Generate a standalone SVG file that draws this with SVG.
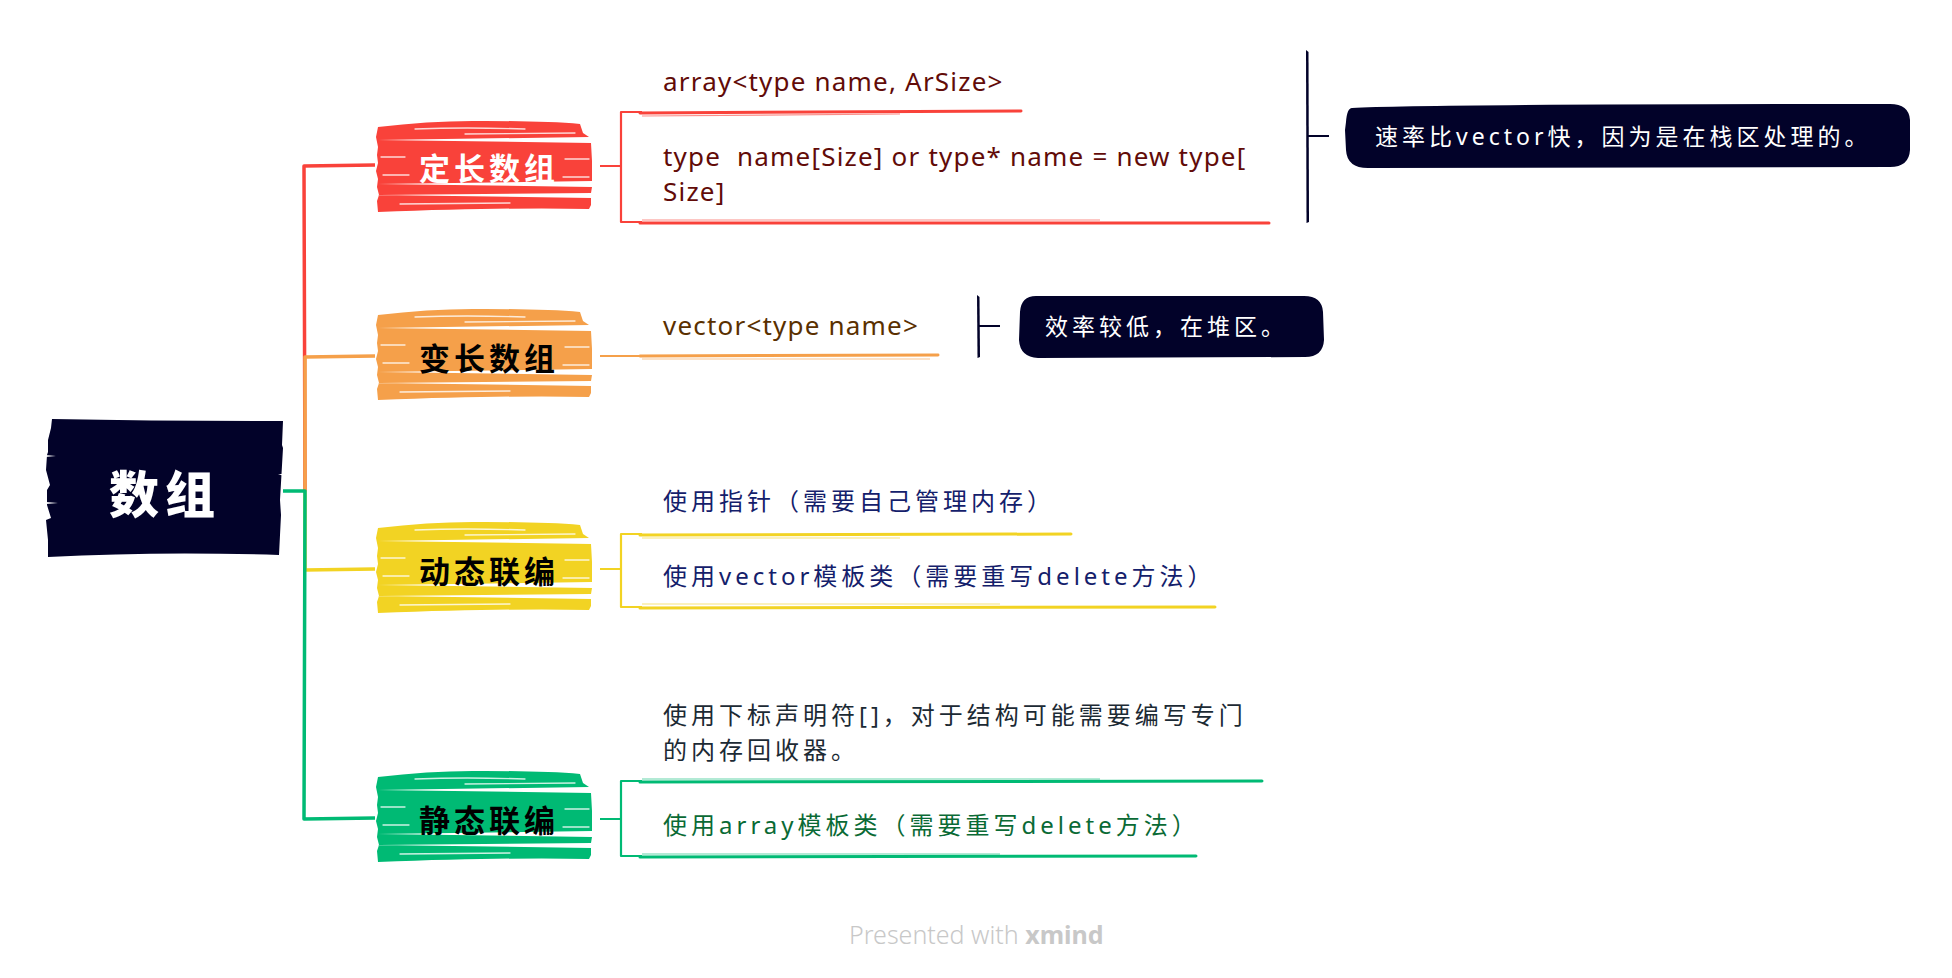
<svg xmlns="http://www.w3.org/2000/svg" width="1952" height="978" viewBox="0 0 1952 978">
<style>
.main{font-family:"Noto Sans CJK SC",sans-serif;font-weight:700;font-size:31px;letter-spacing:4px;text-anchor:middle;dominant-baseline:central}
.sub{font-family:"Noto Sans","Noto Sans CJK SC",sans-serif;font-size:26px;letter-spacing:1.2px;dominant-baseline:central;white-space:pre}
.cjk{font-size:24px;letter-spacing:4px}
.call{font-family:"Noto Sans","Noto Sans CJK SC",sans-serif;font-size:23px;letter-spacing:4px;fill:#ffffff;dominant-baseline:central}
.streak{stroke:#ffffff;stroke-width:1.3;fill:none;stroke-linecap:round;opacity:.8}
.conn{fill:none;stroke-width:3.5;stroke-linejoin:round}
.br{fill:none;stroke-width:2.2;stroke-linejoin:round}
.ul{fill:none;stroke-width:3;stroke-linecap:round}
.ul2{fill:none;stroke-width:1.2;opacity:.6}
</style>
<defs>
<path id="blob" d="M3,6 Q60,-1 110,0 Q170,0 205,3 L208,12 L214,16 L3,19 L216,22 L217,40 L217,60 L3,63 L217,66 L216,72 L3,74 L216,77 L216,84 L214,88 Q140,86 3,91 L2,80 L4,74 L2,66 L3,58 L1,50 L3,42 L2,34 L3,26 L1,16 Z"/>
<g id="streaks">
<path class="streak" d="M40,8 Q90,6 150,8 M90,13 L200,12"/>
<path class="streak" d="M6,36 L30,36 M190,38 L214,38"/>
<path class="streak" d="M8,54 L34,54 M188,56 L214,56"/>
<path class="streak" d="M25,83 L135,82"/>
</g>
</defs>

<g id="connectors">
<path class="conn" stroke="#F9423A" d="M305,491 L304,166 L375,165"/>
<path class="conn" stroke="#F5A04A" d="M305,491 L305,357 L375,356"/>
<path class="conn" stroke="#F2D323" d="M305,491 L305,570 L375,569"/>
<path class="conn" stroke="#00BA74" d="M283,491 L305,491 L304,819 L375,818"/>

<path class="br" stroke="#F9423A" d="M600,166 L621,166 M642,112 L621,112 L621,222 L642,222"/>
<path class="ul" stroke="#F9423A" d="M640,113 L1021,111"/>
<path class="ul2" stroke="#F9423A" d="M642,116 L900,114"/>
<path class="ul" stroke="#F9423A" d="M640,223 L1269,223"/>
<path class="ul2" stroke="#F9423A" d="M642,220 L1100,220"/>

<path class="br" stroke="#F5A04A" d="M600,356 L640,356"/>
<path class="ul" stroke="#F5A04A" d="M640,356 L938,355"/>
<path class="ul2" stroke="#F5A04A" d="M642,359 L930,359"/>

<path class="br" stroke="#F2D323" d="M600,569 L621,569 M642,534 L621,534 L621,607 L642,607"/>
<path class="ul" stroke="#F2D323" d="M640,535 L1071,534"/>
<path class="ul2" stroke="#F2D323" d="M642,538 L900,538"/>
<path class="ul" stroke="#F2D323" d="M640,608 L1215,607"/>
<path class="ul2" stroke="#F2D323" d="M642,604 L1000,604"/>

<path class="br" stroke="#00BA74" d="M600,819 L621,819 M642,781 L621,781 L621,856 L642,856"/>
<path class="ul" stroke="#00BA74" d="M640,782 L1262,781"/>
<path class="ul2" stroke="#00BA74" d="M642,779 L1100,779"/>
<path class="ul" stroke="#00BA74" d="M640,857 L1196,856"/>
<path class="ul2" stroke="#00BA74" d="M642,854 L1000,854"/>

<path fill="#020229" d="M1306,50 L1308.5,52 L1309,222 L1306.5,223 Z"/>
<path fill="none" stroke="#020229" stroke-width="2" d="M1308,136 L1329,136"/>
<path fill="#020229" d="M977,295 L979.5,297 L980,357 L977.5,358 Z"/>
<path fill="none" stroke="#020229" stroke-width="2" d="M979,326 L1000,326"/>
</g>

<g id="root">
<path fill="#020229" d="M52,419 Q160,421 283,421 L282,445 L283,448 L280,500 L281,515 L279,555 Q160,551 48,557 L48,540 L46,520 L51,518 L47,505 L47,490 L50,485 L46,470 L47,455 L48,452 L48,440 L51,428 Z"/>
<path fill="#ffffff" d="M45,455 L56,456 L45,457 Z M46,502 L58,503 L46,504 Z M278,474 L284,474 L284,476 Z"/>
<text x="165" y="491" style="font-family:'Noto Sans CJK SC',sans-serif;font-weight:900;font-size:50px;letter-spacing:6px;text-anchor:middle;dominant-baseline:central;fill:#ffffff">数组</text>
</g>

<g id="n1">
<use href="#blob" x="375" y="121" fill="#F9423A"/>
<use href="#streaks" x="375" y="121"/>
<text class="main" x="489" y="166" fill="#ffffff">定长数组</text>
</g>
<g id="n2">
<use href="#blob" x="375" y="309" fill="#F5A04A"/>
<use href="#streaks" x="375" y="309"/>
<text class="main" x="489" y="356" fill="#000000">变长数组</text>
</g>
<g id="n3">
<use href="#blob" x="375" y="522" fill="#F2D323"/>
<use href="#streaks" x="375" y="522"/>
<text class="main" x="489" y="569" fill="#000000">动态联编</text>
</g>
<g id="n4">
<use href="#blob" x="375" y="771" fill="#00BA74"/>
<use href="#streaks" x="375" y="771"/>
<text class="main" x="489" y="818" fill="#000000">静态联编</text>
</g>

<g id="n1a"><text class="sub" x="663" y="81" fill="#620b08">array&lt;type name, ArSize&gt;</text></g>
<g id="n1b"><text class="sub" x="663" y="156" fill="#620b08">type  name[Size] or type* name = new type[</text><text class="sub" x="663" y="191" fill="#620b08">Size]</text></g>
<g id="n2a"><text class="sub" x="663" y="325" fill="#5a3000">vector&lt;type name&gt;</text></g>
<g id="n3a"><text class="sub cjk" x="663" y="500" fill="#14206b">使用指针（需要自己管理内存）</text></g>
<g id="n3b"><text class="sub cjk" x="663" y="575" fill="#14206b" letter-spacing="3.6">使用vector模板类（需要重写delete方法）</text></g>
<g id="n4a"><text class="sub cjk" x="663" y="714" fill="#1c2a34">使用下标声明符[]，对于结构可能需要编写专门</text><text class="sub cjk" x="663" y="749" fill="#1c2a34">的内存回收器。</text></g>
<g id="n4b"><text class="sub cjk" x="663" y="824" fill="#0a6a35" letter-spacing="3.6">使用array模板类（需要重写delete方法）</text></g>

<g id="c1">
<path fill="#020229" d="M1352,108 Q1420,104 1890,104 Q1909,104 1910,120 L1910,150 Q1909,167 1890,167 L1368,168 Q1347,168 1346,150 L1345,130 L1346,122 Q1347,108 1352,108 Z"/>
<text class="call" x="1375" y="136">速率比vector快，因为是在栈区处理的。</text>
</g>
<g id="c2">
<path fill="#020229" d="M1036,296 L1304,296 Q1322,296 1323,312 L1324,340 Q1323,357 1305,357 L1038,358 Q1020,357 1019,340 L1020,312 Q1021,296 1036,296 Z"/>
<text class="call" x="1045" y="326">效率较低，在堆区。</text>
</g>

<g id="footer">
<text x="849" y="934" style="font-family:'Noto Sans',sans-serif;font-size:25px;font-weight:300;fill:#c8c8c8;dominant-baseline:central">Presented with <tspan font-weight="700">xmind</tspan></text>
</g>
</svg>
